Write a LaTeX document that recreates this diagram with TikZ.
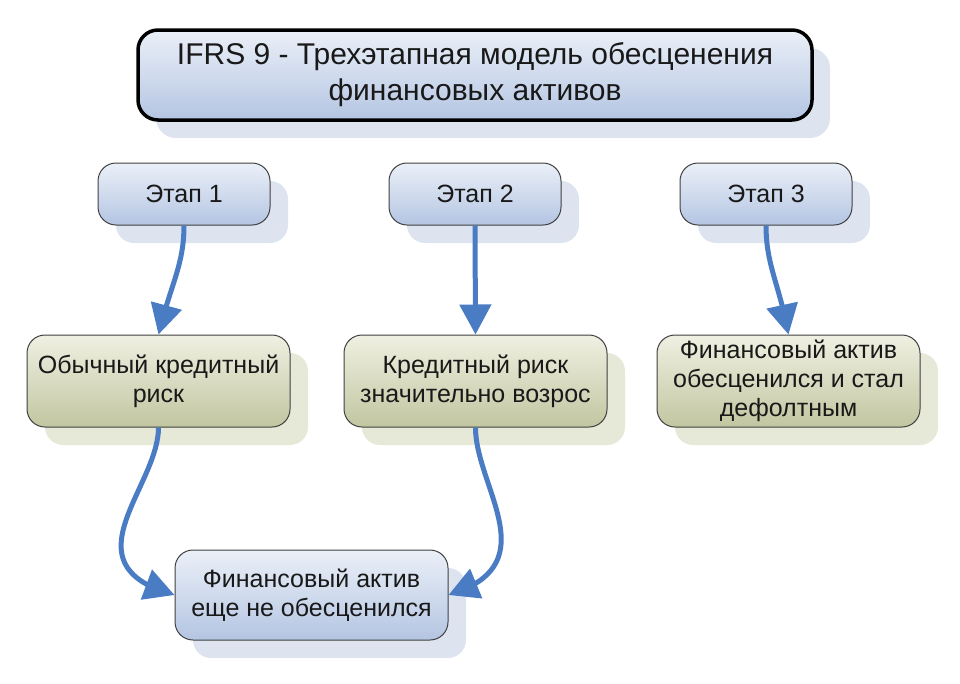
\documentclass[tikz,border=0pt]{standalone}
\usepackage{fontspec}
\setmainfont{Liberation Sans}
\usetikzlibrary{arrows.meta,bending,shadows}
\definecolor{stageblue}{HTML}{B4C5E2}
\definecolor{stagelight}{HTML}{EBF0F8}
\definecolor{riskgreen}{HTML}{C2C6A0}
\definecolor{risklight}{HTML}{EFF0E2}
\definecolor{shadeblue}{HTML}{DDE4EF}
\definecolor{shadegreen}{HTML}{E6E8D8}
\definecolor{flowblue}{HTML}{4A7CC4}
\tikzset{
  box/.style={
    rounded corners=18pt,
    draw=black!75,
    line width=1pt,
    align=center,
    inner sep=0pt,
    text=black!90,
    font=\fontsize{25}{29}\selectfont
  },
  bluebox/.style={
    box,
    top color=stagelight,
    bottom color=stageblue,
    drop shadow={shadow xshift=18pt, shadow yshift=-18pt, fill=shadeblue, opacity=1}
  },
  greenbox/.style={
    box,
    top color=risklight,
    bottom color=riskgreen,
    drop shadow={shadow xshift=18pt, shadow yshift=-18pt, fill=shadegreen, opacity=1}
  },
  titlebox/.style={
    bluebox,
    rounded corners=20pt,
    draw=black,
    line width=3.5pt,
    font=\fontsize{30}{36}\selectfont
  },
  stagebox/.style={
    bluebox,
    minimum width=172pt,
    minimum height=62pt
  },
  riskbox/.style={
    greenbox,
    minimum width=263pt,
    minimum height=92pt
  },
  flow/.style={
    draw=flowblue,
    line width=5pt,
    -{Triangle[width=31pt,length=30pt]}
  }
}

\begin{document}
\begin{tikzpicture}[x=1pt,y=-1pt]
  \useasboundingbox (0,0) rectangle (960,683);
  % title
  \node[titlebox, minimum width=674pt, minimum height=90pt] (title) at (475,75)
    {IFRS 9 - Трехэтапная модель обесценения\\финансовых активов};
  % stages
  \node[stagebox] (s1) at (184,194) {Этап 1};
  \node[stagebox] (s2) at (475,194) {Этап 2};
  \node[stagebox] (s3) at (766,194) {Этап 3};
  % credit risk
  \node[riskbox] (g1) at (158.5,381) {Обычный кредитный\\риск};
  \node[riskbox] (g2) at (475.5,381) {Кредитный риск\\значительно возрос};
  \node[riskbox] (g3) at (788.5,381) {Финансовый актив\\обесценился и стал\\дефолтным};
  % not impaired
  \node[bluebox, minimum width=273pt, minimum height=90pt] (np) at (311.5,595)
    {Финансовый актив\\еще не обесценился};
  % arrows
  \draw[flow] (s1.south) .. controls +(0,40) and +(12,-50) .. (g1.north);
  \draw[flow] (s2.south) -- (g2.north);
  \draw[flow] (s3.south) .. controls +(0,40) and +(-9,-50) .. (g3.north);
  \draw[flow] (g1.south) .. controls +(0,60) and +(-110,-30) .. (np.west);
  \draw[flow] (g2.south) .. controls +(0,60) and +(100,-30) .. (np.east);
\end{tikzpicture}
\end{document}
